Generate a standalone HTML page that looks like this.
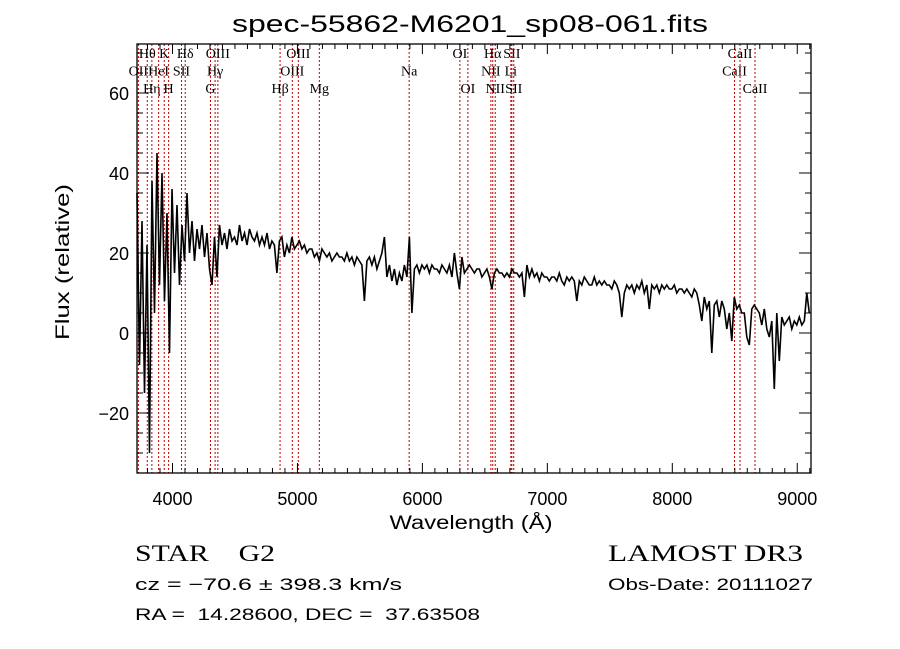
<!DOCTYPE html>
<html><head><meta charset="utf-8">
<style>
html,body{margin:0;padding:0;background:#fff;}
svg{display:block;}
text{font-family:"Liberation Sans",sans-serif;fill:#000;white-space:pre;}
.lbl{font-family:"Liberation Serif",serif;font-size:14px;}
</style></head>
<body>
<svg id="chart" width="900" height="649" viewBox="0 0 900 649" xmlns="http://www.w3.org/2000/svg" xml:space="preserve">
<rect x="0" y="0" width="900" height="649" fill="#fff"/>
<text x="470" y="32" text-anchor="middle" font-size="24" textLength="476" lengthAdjust="spacingAndGlyphs">spec-55862-M6201_sp08-061.fits</text>
<g id="lines"></g>
<g id="spec"></g>
<g id="axes"></g>
<text x="471" y="529" text-anchor="middle" font-size="19" textLength="163" lengthAdjust="spacingAndGlyphs">Wavelength (Å)</text>
<text transform="translate(69,262) rotate(-90)" text-anchor="middle" font-size="19" textLength="156" lengthAdjust="spacingAndGlyphs">Flux (relative)</text>
<text x="135" y="561" font-size="23" style="font-family:'Liberation Serif',serif" textLength="140" lengthAdjust="spacingAndGlyphs">STAR    G2</text>
<text x="608" y="561" font-size="23" style="font-family:'Liberation Serif',serif" textLength="195" lengthAdjust="spacingAndGlyphs">LAMOST DR3</text>
<text x="135" y="590" font-size="17" textLength="267" lengthAdjust="spacingAndGlyphs">cz = −70.6 ± 398.3 km/s</text>
<text x="608" y="590" font-size="17" textLength="205" lengthAdjust="spacingAndGlyphs">Obs-Date: 20111027</text>
<text x="135" y="620" font-size="17" textLength="345" lengthAdjust="spacingAndGlyphs">RA =  14.28600, DEC =  37.63508</text>
</svg>
<script>
const waveStart = 3716;
const waveStep = 20;
const flux = [
35,-8,28,-15,22, -30,38,5,45,12, 40,8,30,-5,36, 15,32,12,27,18,
35,20,28,18,26, 21,27,19,25,16, 12,24,14,27,22, 25,21,26,23,24,
22,27,23,25,22, 26,24,23,25,22, 24,22,25,21,23, 22,15,23,24,19,
22,20,24,21,22, 23,21,22,20,21, 21,19,20,18,21, 20,19,20,18,19,
20,19,19,18,20, 18,19,17,19,18, 17,8,18,19,17, 19,16,18,20,24,
14,17,13,16,12, 15,13,17,14,24, 5,16,17,15,17, 16,17,15,17,16,
16,15,17,16,15, 17,14,20,15,11, 19,15,16,17,16, 15,16,16,14,15,
16,14,11,15,16, 15,15,14,15,14, 16,15,15,14,15, 9,17,14,16,14,
15,13,15,14,14, 13,14,14,13,15, 13,12,14,13,14, 13,8,13,12,14,
13,12,12,14,12, 13,12,13,12,12, 11,13,12,10,4, 10,12,11,12,10,
12,11,13,10,12, 6,12,11,12,10, 12,11,12,11,11, 12,10,11,11,10,
11,10,9,11,10, 7,3,9,6,8, -5,7,8,4,8, 6,1,5,-2,9,
6,7,5,5,-1, -3,6,7,6,5, 2,6,1,-1,3, -14,5,-7,4,2,
3,4,1,3,2, 4,2,3,10,5
];
const lineWaves = [3727,3798,3835,3889,3934,3969,4072,4102,4304,4341,4363,4861,4959,5007,5175,5894,6300,6364,6548,6563,6583,6708,6716,6731,8498,8542,8662];
const lineNames = ["OII","Hθ","Hη","HeI","K","H","SII","Hδ","G","Hγ","OIII","Hβ","OIII","OIII","Mg","Na","OI","OI","NII","Hα","NII","Li","SII","SII","CaII","CaII","CaII"];
const lineRows = [2,1,3,2,1,3,2,1,3,2,1,3,2,1,3,2,1,3,2,1,3,2,1,3,2,1,3];
const xTicks = [4000,5000,6000,7000,8000,9000];
const yTicks = [-20,0,20,40,60];

const X0=137,X1=811,Y0=44,Y1=473,WMIN=3716,WMAX=9110,FMIN=-35,FMAX=72.25;
function xs(w){return X0+(w-WMIN)/(WMAX-WMIN)*(X1-X0);}
function ys(f){return Y1-(f-FMIN)/(FMAX-FMIN)*(Y1-Y0);}
const NS="http://www.w3.org/2000/svg";
function mk(tag,attrs,parent){const e=document.createElementNS(NS,tag);for(const k in attrs)e.setAttribute(k,attrs[k]);parent.appendChild(e);return e;}

const gl=document.getElementById('lines');
lineWaves.forEach((w,i)=>{
  const x=xs(w);
  const l=mk('line',{x1:x,y1:Y0,x2:x,y2:Y1,stroke:'#c00000','stroke-width':1,'stroke-dasharray':'2,2'},gl);
  
  
  const t=mk('text',{x:x,y:58+(lineRows[i]-1)*17.5,'text-anchor':'middle',class:'lbl'},gl);
  t.textContent=lineNames[i];
  
  
});

const gs=document.getElementById('spec');
let d='';
flux.forEach((f,i)=>{const w=waveStart+i*waveStep; if(w>WMAX)return; d+=(d?'L':'M')+xs(w).toFixed(1)+','+ys(Math.max(FMIN,Math.min(FMAX,f))).toFixed(1);});
const p=mk('path',{d:d,fill:'none',stroke:'#000','stroke-width':1.6,'stroke-linejoin':'miter'},gs);



const ga=document.getElementById('axes');
const fr=mk('rect',{x:X0,y:Y0,width:X1-X0,height:Y1-Y0,fill:'none',stroke:'#000','stroke-width':1.3},ga);


for(let w=3800;w<=WMAX;w+=100){
  const x=xs(w),maj=(w%1000===0),len=maj?10:5;
  mk('line',{x1:x,y1:Y1,x2:x,y2:Y1-len,stroke:'#000','stroke-width':1},ga);
  mk('line',{x1:x,y1:Y0,x2:x,y2:Y0+len,stroke:'#000','stroke-width':1},ga);
}
xTicks.forEach(w=>{
  const t=mk('text',{x:xs(w),y:505,'text-anchor':'middle','font-size':18},ga);
  t.textContent=String(w);
  
  
});
for(let f=-35;f<=72;f+=5){
  const y=ys(f),maj=(f%20===0),len=maj?12:6;
  mk('line',{x1:X0,y1:y,x2:X0+len,y2:y,stroke:'#000','stroke-width':1},ga);
  mk('line',{x1:X1,y1:y,x2:X1-len,y2:y,stroke:'#000','stroke-width':1},ga);
}
yTicks.forEach(f=>{
  const t=mk('text',{x:129,y:ys(f)+7,'text-anchor':'end','font-size':18},ga);
  t.textContent=(f<0?'−':'')+Math.abs(f);
  
  
});
</script>
</body></html>
